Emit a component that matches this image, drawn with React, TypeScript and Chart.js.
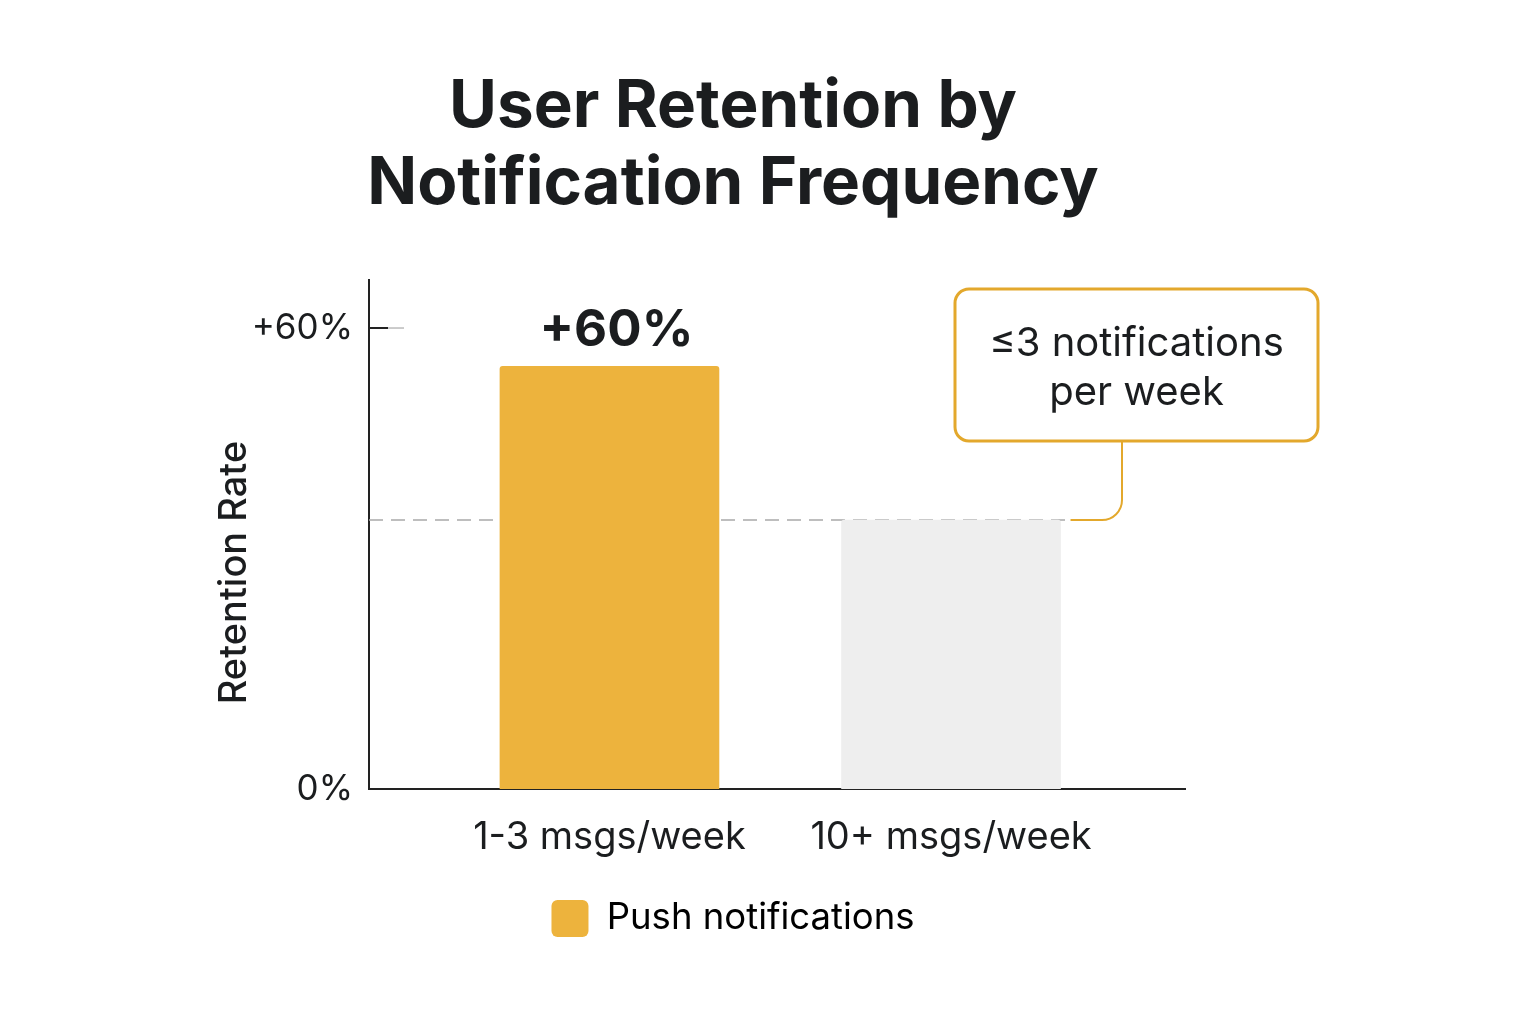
import { useEffect, useRef } from "react";
import { Chart, registerables } from "chart.js";

Chart.register(...registerables);

// ---- chart data ----
const titleLines = ["User Retention by", "Notification Frequency"];
const categories = ["1-3 msgs/week", "10+ msgs/week"];
const categoryPositions = [1, 2];
const retentionValues = [55, 35];
const barColors = ["#EDB33D", "#EEEEEE"];
const seriesLabel = "Push notifications";
const yTickValues = [0, 60];
const yTickLabels = ["0%", "+60%"];
const yAxisTitle = "Retention Rate";
const liftLabel = "+60%";
const calloutLines = ["\u22643 notifications", "per week"];

// ---- look ----
const FONT = "Inter, 'Noto Sans', sans-serif";
const TEXT = "#1b1d1f";
const AXIS = "#222222";
const ACCENT = "#E3A82C";
const X_MIN = 0.296;
const X_MAX = 2.685;
const Y_MAX = 66.25;

const calloutBox = { left: 955, top: 289, width: 363, height: 152, radius: 14, stemX: 1122 };

const overlayPlugin = {
  id: "overlay",
  beforeDatasetsDraw(chart: any) {
    const { ctx, chartArea, scales } = chart;
    const yScale = scales.y;
    const meta = chart.getDatasetMeta(0);
    const bar2 = meta.data[1] as any;
    const refY = yScale.getPixelForValue(retentionValues[1]);
    const endX = bar2.x + bar2.width / 2 + 10;

    ctx.save();
    // dashed reference level at the second bar's value
    ctx.setLineDash([14, 8]);
    ctx.strokeStyle = "#A9A9A9";
    ctx.lineWidth = 1.5;
    ctx.beginPath();
    ctx.moveTo(chartArea.left, refY);
    ctx.lineTo(endX, refY);
    ctx.stroke();
    ctx.setLineDash([]);

    // short inner tick at the top label
    const tY = yScale.getPixelForValue(yTickValues[1]);
    ctx.strokeStyle = AXIS;
    ctx.lineWidth = 2;
    ctx.beginPath();
    ctx.moveTo(chartArea.left, tY);
    ctx.lineTo(chartArea.left + 19, tY);
    ctx.stroke();
    ctx.strokeStyle = "#BBBBBB";
    ctx.lineWidth = 1.5;
    ctx.beginPath();
    ctx.moveTo(chartArea.left + 19, tY);
    ctx.lineTo(chartArea.left + 35, tY);
    ctx.stroke();
    ctx.restore();
  },
  afterDatasetsDraw(chart: any) {
    const { ctx, chartArea, scales } = chart;
    const yScale = scales.y;
    const meta = chart.getDatasetMeta(0);
    const bar1 = meta.data[0] as any;
    const bar2 = meta.data[1] as any;
    const refY = yScale.getPixelForValue(retentionValues[1]);
    const endX = bar2.x + bar2.width / 2 + 10;

    ctx.save();
    // lift label over the first bar
    ctx.fillStyle = TEXT;
    ctx.font = `700 51px ${FONT}`;
    ctx.textAlign = "center";
    ctx.textBaseline = "middle";
    ctx.fillText(liftLabel, bar1.x + 7, bar1.y - 36);

    // callout box
    const b = calloutBox;
    ctx.fillStyle = "#FFFFFF";
    ctx.strokeStyle = ACCENT;
    ctx.lineWidth = 3;
    ctx.beginPath();
    ctx.roundRect(b.left, b.top, b.width, b.height, b.radius);
    ctx.fill();
    ctx.stroke();

    ctx.fillStyle = TEXT;
    ctx.font = `400 40px ${FONT}`;
    const cx = b.left + b.width / 2;
    ctx.fillText(calloutLines[0], cx, b.top + 55);
    ctx.fillText(calloutLines[1], cx, b.top + 104);

    // connector from the box down to the reference level
    const r = 20;
    ctx.lineWidth = 2;
    ctx.beginPath();
    ctx.moveTo(endX, refY);
    ctx.lineTo(b.stemX - r, refY);
    ctx.arcTo(b.stemX, refY, b.stemX, refY - r, r);
    ctx.lineTo(b.stemX, b.top + b.height);
    ctx.stroke();

    // rotated axis title
    ctx.translate(chartArea.left - 134, (chartArea.top + chartArea.bottom) / 2 + 38);
    ctx.rotate(-Math.PI / 2);
    ctx.fillStyle = TEXT;
    ctx.font = `500 38px ${FONT}`;
    ctx.fillText(yAxisTitle, 0, 0);
    ctx.restore();
  },
};

export default function App() {
  const canvasRef = useRef<HTMLCanvasElement | null>(null);

  useEffect(() => {
    const canvas = canvasRef.current;
    if (!canvas) return;
    const chart = new Chart(canvas, {
      type: "bar",
      data: {
        datasets: [
          {
            label: seriesLabel,
            data: categoryPositions.map((x, i) => ({ x, y: retentionValues[i] })),
            backgroundColor: barColors,
            borderWidth: 0,
            borderRadius: { topLeft: 3, topRight: 3, bottomLeft: 0, bottomRight: 0 },
            borderSkipped: "start",
            barThickness: 219,
          },
        ],
      },
      options: {
        responsive: false,
        animation: false,
        devicePixelRatio: 1,
        layout: { padding: { left: 0, right: 70, top: 0, bottom: 77 } },
        plugins: {
          title: {
            display: true,
            text: titleLines,
            color: TEXT,
            font: { family: FONT, size: 65.5, weight: "700", lineHeight: "77px" },
            padding: { top: 69, bottom: 57 },
          },
          legend: {
            display: true,
            position: "bottom",
            labels: {
              color: TEXT,
              font: { family: FONT, size: 36.5, weight: "400" },
              boxWidth: 37,
              boxHeight: 37,
              padding: 12,
              useBorderRadius: true,
              borderRadius: 6,
              generateLabels: () => [
                {
                  text: seriesLabel,
                  fillStyle: barColors[0],
                  strokeStyle: barColors[0],
                  lineWidth: 0,
                  hidden: false,
                  datasetIndex: 0,
                  borderRadius: 6,
                } as any,
              ],
            },
          },
          tooltip: { enabled: false },
        },
        scales: {
          x: {
            type: "linear",
            min: X_MIN,
            max: X_MAX,
            offset: false,
            grid: { display: false, drawTicks: false },
            border: { display: true, color: AXIS, width: 2 },
            afterBuildTicks: (s: any) => {
              s.ticks = categoryPositions.map((v) => ({ value: v }));
            },
            afterFit: (s: any) => {
              s.height = 99;
            },
            ticks: {
              color: TEXT,
              font: { family: FONT, size: 38, weight: "400" },
              padding: 26,
              maxRotation: 0,
              autoSkip: false,
              callback: (_v: any, i: number) => categories[i],
            },
          },
          y: {
            type: "linear",
            position: "left",
            min: 0,
            max: Y_MAX,
            grid: { display: false, drawTicks: false },
            border: { display: true, color: AXIS, width: 2 },
            afterBuildTicks: (s: any) => {
              s.ticks = yTickValues.map((v) => ({ value: v }));
            },
            afterFit: (s: any) => {
              s.width = 369;
            },
            ticks: {
              color: TEXT,
              font: { family: FONT, size: 35, weight: "400" },
              padding: 16,
              callback: (_v: any, i: number) => yTickLabels[i],
            },
          },
          spacer: {
            type: "linear",
            position: "right",
            display: true,
            grid: { display: false, drawTicks: false },
            border: { display: false },
            ticks: { display: false },
            afterFit: (s: any) => {
              s.width = 281;
            },
          },
        },
      } as any,
      plugins: [overlayPlugin],
    });
    return () => chart.destroy();
  }, []);

  return (
    <div style={{ position: "absolute", left: 0, top: 0, width: 1536, height: 1024, background: "#FFFFFF" }}>
      <canvas ref={canvasRef} width={1536} height={1024} />
    </div>
  );
}
